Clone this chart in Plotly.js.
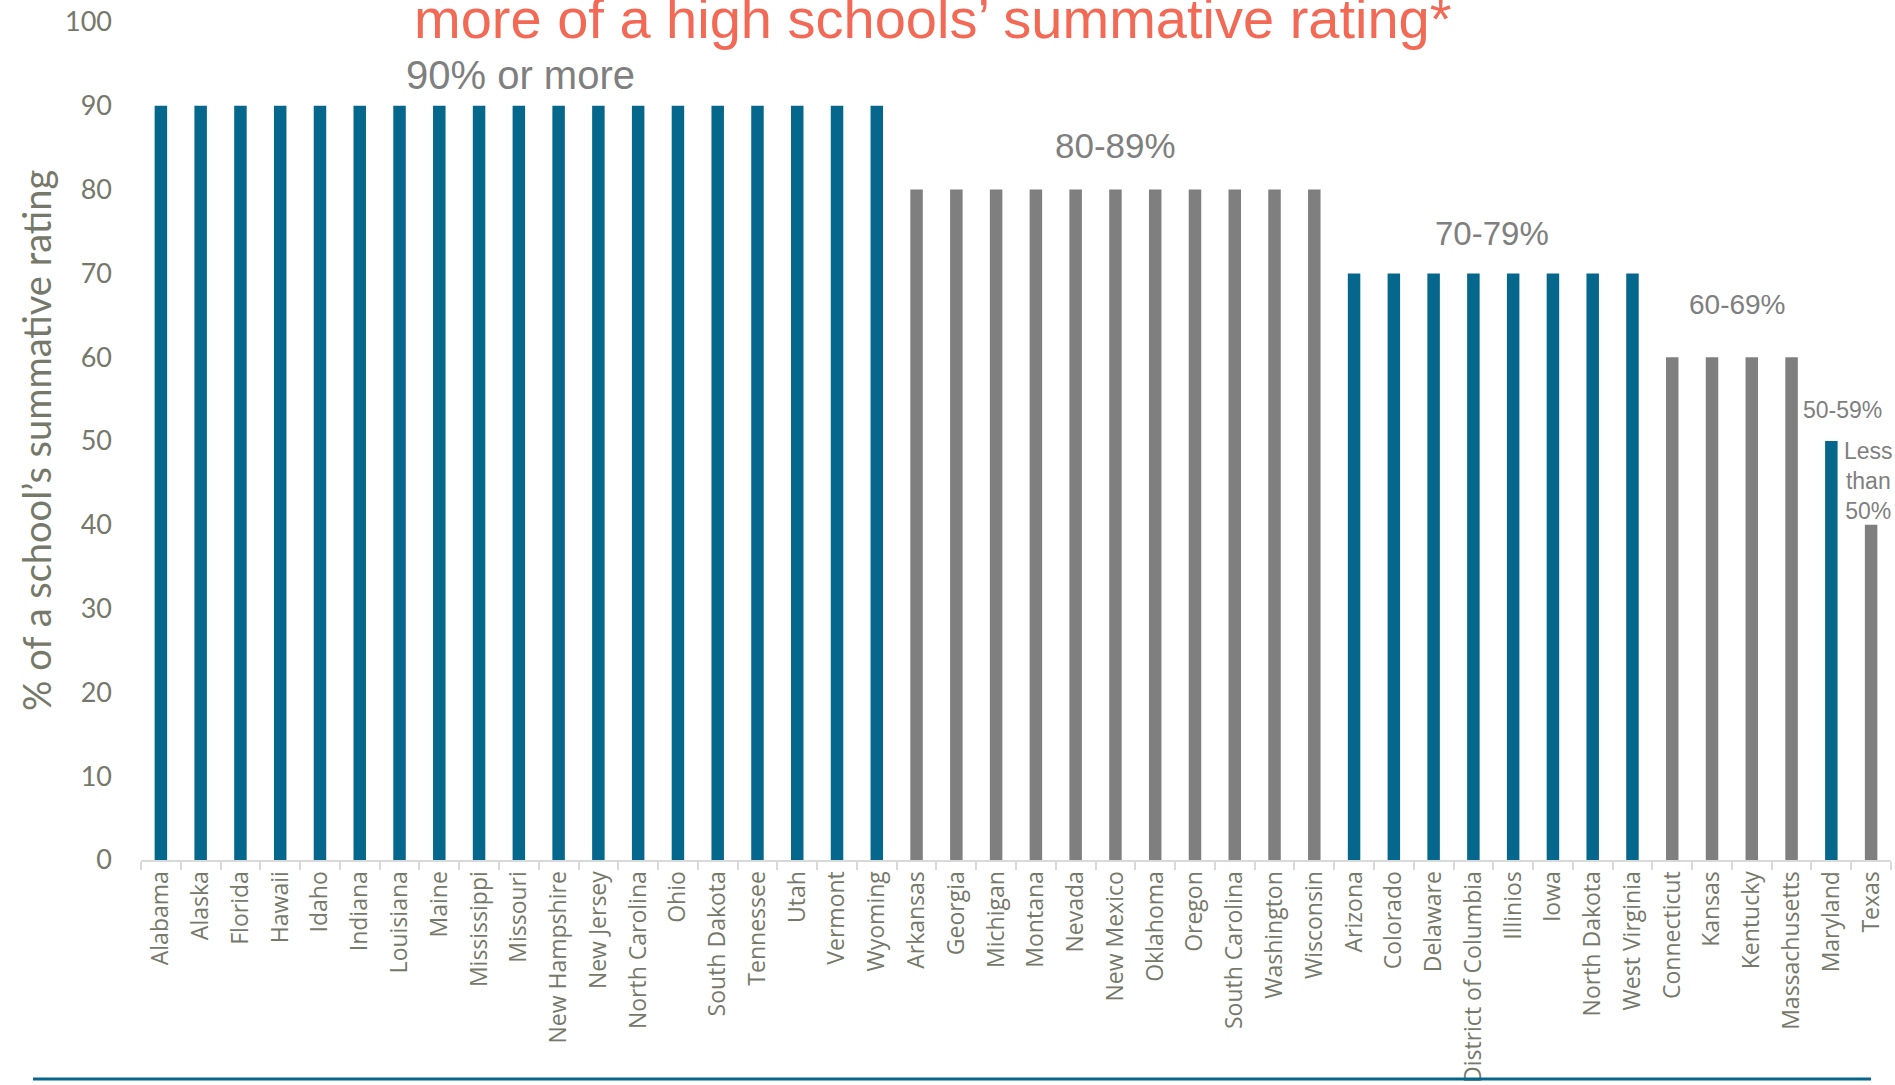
<!DOCTYPE html>
<html>
<head>
<meta charset="utf-8">
<script src="https://cdn.plot.ly/plotly-3.0.1.min.js"></script>
<style>html,body{margin:0;padding:0;background:#fff;}#chart{width:1895px;height:1085px;}</style>
</head>
<body>
<div id="chart"></div>
<script>
const states = ["Alabama","Alaska","Florida","Hawaii","Idaho","Indiana","Louisiana","Maine","Mississippi","Missouri","New Hampshire","New Jersey","North Carolina","Ohio","South Dakota","Tennessee","Utah","Vermont","Wyoming",
  "Arkansas","Georgia","Michigan","Montana","Nevada","New Mexico","Oklahoma","Oregon","South Carolina","Washington","Wisconsin",
  "Arizona","Colorado","Delaware","District of Columbia","Illinios","Iowa","North Dakota","West Virginia",
  "Connecticut","Kansas","Kentucky","Massachusetts",
  "Maryland","Texas"];
const ratings = [90,90,90,90,90,90,90,90,90,90,90,90,90,90,90,90,90,90,90,
  80,80,80,80,80,80,80,80,80,80,80,
  70,70,70,70,70,70,70,70,
  60,60,60,60,
  50,40];
const groupLabels = ["90% or more","80-89%","70-79%","60-69%","50-59%","Less<br>than<br>50%"];
const titleText = "more of a high schools\u2019 summative rating*";
const yTitle = "% of a school\u2019s summative rating";

const BLUE = "#06678d", GRAY = "#7f7f7f";
const barColors = ratings.map(v => (Math.floor(v/10) % 2 === 1) ? BLUE : GRAY);

const trace = {
  type: "bar",
  x: states,
  y: ratings,
  marker: {color: barColors},
  hoverinfo: "x+y"
};

// label placement (layout only)
const labelPos = [
  {x: 9.03, y: 93.7, size: 40},
  {x: 24.0, y: 85.3, size: 35},
  {x: 33.48, y: 74.8, size: 33},
  {x: 39.63, y: 66.3, size: 28},
  {x: 42.29, y: 53.7, size: 23},
  {x: 42.93, y: 45.2, size: 23}
];
const annotations = groupLabels.map((t, i) => ({
  text: t, xref: "x", yref: "y", x: labelPos[i].x, y: labelPos[i].y,
  showarrow: false, xanchor: "center", yanchor: "middle",
  font: {family: "Liberation Sans, Arial, sans-serif", size: labelPos[i].size, color: GRAY}
}));
annotations.push({
  text: titleText, xref: "paper", yref: "paper", x: 0.4526, y: 0.9645,
  xanchor: "center", yanchor: "bottom", showarrow: false,
  font: {family: "Liberation Sans, Arial, sans-serif", size: 56, color: "#f26a55"}
});
annotations.push({
  text: yTitle, xref: "paper", yref: "paper", x: -0.06, y: 0.5,
  xanchor: "center", yanchor: "middle", textangle: -90, showarrow: false,
  font: {family: "Lato, sans-serif", size: 38, color: "#76786a"}
});

const layout = {
  width: 1895, height: 1085,
  margin: {l: 141, r: 4, t: 22, b: 225, pad: 0},
  paper_bgcolor: "#fff", plot_bgcolor: "#fff",
  showlegend: false,
  bargap: 0.686,
  xaxis: {
    type: "category",
    range: [-0.5, 43.5],
    tickangle: -90,
    tickfont: {family: "Open Sans, sans-serif", size: 23, color: "#76786a"},
    ticks: "outside", tickson: "boundaries", ticklen: 8, tickcolor: "#d9d9d9", tickwidth: 2,
    showline: true, linecolor: "#d9d9d9", linewidth: 2,
    showgrid: false, zeroline: false, automargin: false
  },
  yaxis: {
    range: [0, 100], dtick: 10, tick0: 0,
    tickfont: {family: "Lato, sans-serif", size: 27, color: "#76786a"},
    ticks: "", showline: false, showgrid: false, zeroline: false,
    ticklabelstandoff: 28,
    automargin: false
  },
  annotations: annotations,
  shapes: [{
    type: "line", xref: "paper", yref: "paper",
    x0: -0.0617, x1: 0.9886, y0: -0.2613, y1: -0.2613,
    line: {color: BLUE, width: 3}
  }]
};

Plotly.newPlot("chart", [trace], layout, {displayModeBar: false, staticPlot: true});
</script>
</body>
</html>
